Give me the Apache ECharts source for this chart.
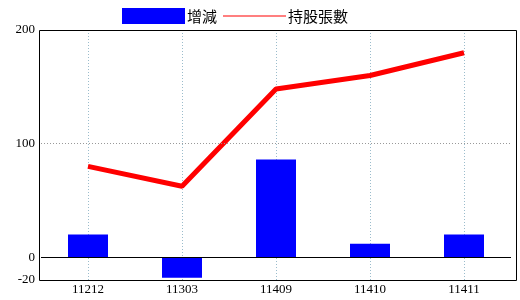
<!DOCTYPE html>
<html><head><meta charset="utf-8">
<script src="https://cdn.jsdelivr.net/npm/echarts@6/dist/echarts.min.js"></script>
<style>html,body{margin:0;padding:0;background:#fff}#c{width:520px;height:300px}</style>
</head><body><div id="c"></div>
<script>
const categories = ['11212', '11303', '11409', '11410', '11411'];
const changeValues = [20, -18, 86, 12, 20];
const holdingValues = [80, 62.5, 148, 160, 180];
const yTickLabels = [-20, 0, 100, 200];

const chart = echarts.init(document.getElementById('c'), null, {renderer: 'canvas'});
const labelFont = 'Liberation Serif';
chart.setOption({
  animation: false,
  backgroundColor: '#fff',
  graphic: [{type: 'rect', shape: {x: 39.5, y: 30.5, width: 477, height: 250}, style: {fill: 'none', stroke: '#000', lineWidth: 1}, z: 10}],
  legend: {
    top: 8, left: 122, itemWidth: 63, itemHeight: 16, itemGap: 6, padding: 0,
    symbolKeepAspect: true,
    textStyle: {fontFamily: 'Noto Sans CJK TC', fontSize: 15, color: '#000', padding: [0,0,0,-3]},
    data: [
      {name: '增減', icon: 'rect'},
      {name: '持股張數', icon: 'path://M0,0L63,0L63,1.2L0,1.2Z', itemStyle: {color: '#ff0000'}}
    ]
  },
  grid: {left: 41, right: 9, top: 30, bottom: 20},
  xAxis: {
    type: 'category', data: categories, boundaryGap: true,
    axisLine: {show: false}, axisTick: {show: false},
    axisLabel: {fontFamily: labelFont, fontSize: 13, color: '#000', margin: 3},
    splitLine: {show: true, alignWithLabel: true, lineStyle: {color: '#9bbccc', type: [1, 2], width: 1}}
  },
  yAxis: {
    type: 'value', min: -20, max: 200,
    axisLine: {show: false}, axisTick: {show: false},
    splitLine: {show: false},
    axisLabel: {fontFamily: labelFont, fontSize: 13, color: '#000', margin: 6, customValues: yTickLabels}
  },
  series: [
    {
      name: '增減', type: 'bar', data: changeValues, barWidth: 40,
      itemStyle: {color: '#0000ff'},
      markLine: {
        silent: true, symbol: 'none', label: {show: false},
        data: [
          {yAxis: 100, lineStyle: {color: '#999', type: [1, 2], width: 1}},
          {yAxis: 0, lineStyle: {color: '#000', type: 'solid', width: 1}}
        ]
      }
    },
    {
      name: '持股張數', type: 'line', data: holdingValues, symbol: 'none',
      lineStyle: {color: '#ff0000', width: 5}, itemStyle: {color: '#ff0000'}
    }
  ]
});
</script></body></html>
